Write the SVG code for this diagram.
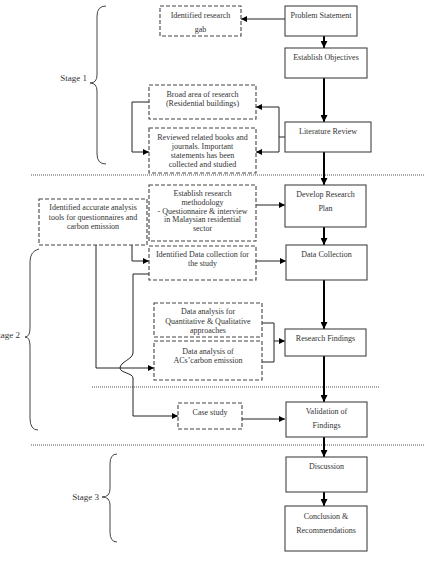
<svg xmlns="http://www.w3.org/2000/svg" width="425" height="571" viewBox="0 0 425 571">
<style>
.box{fill:#fff;stroke:#444;stroke-width:1.1}
.dbox{fill:#fff;stroke:#444;stroke-width:1.1;stroke-dasharray:4 2}
.t{font-family:"Liberation Serif",serif;font-size:8px;fill:#333;text-anchor:middle}
.st{font-family:"Liberation Serif",serif;font-size:9px;fill:#333;text-anchor:end}
.thick{fill:none;stroke:#000;stroke-width:2}
.thin{fill:none;stroke:#222;stroke-width:1}
.sep{fill:none;stroke:#555;stroke-width:1;stroke-dasharray:1 1}
.brace{fill:none;stroke:#444;stroke-width:1}
</style>
<defs>
<marker id="ah" viewBox="0 0 10 10" refX="10" refY="5" markerWidth="7" markerHeight="7" markerUnits="userSpaceOnUse" orient="auto"><path d="M0,0 L10,5 L0,10 z" fill="#000"/></marker>
<marker id="as" viewBox="0 0 10 10" refX="10" refY="5" markerWidth="6" markerHeight="6" markerUnits="userSpaceOnUse" orient="auto"><path d="M0,0 L10,5 L0,10 z" fill="#000"/></marker>
</defs>
<rect width="425" height="571" fill="#fff"/>

<g id="separators">
<path class="sep" d="M31,175 L425,175"/>
<path class="sep" d="M92,387 L379,387"/>
<path class="sep" d="M31,445 L425,445"/>
</g>

<g id="stage1">
<path class="brace" d="M106,6 Q97,6 97,16 L97,75 Q97,83 90,83 Q97,83 97,91 L97,154 Q97,164 106,164"/>
<text class="st" x="87" y="81">Stage 1</text>
</g>
<g id="stage2">
<path class="brace" d="M39,249 Q30,251 30,262 L30,328 Q30,337 25,337 Q30,337 30,346 L30,418 Q30,430 38,430"/>
<text class="st" x="20" y="338">Stage 2</text>
</g>
<g id="stage3">
<path class="brace" d="M117,454 Q110,454 110,464 L110,489 Q110,497 102,497 Q110,497 110,505 L110,532 Q110,542 117,542"/>
<text class="st" x="99" y="500">Stage 3</text>
</g>

<g id="connectors">
<path class="thin" d="M285,19 L241,19" marker-end="url(#as)"/>
<path class="thick" d="M324,36 L324,48" marker-end="url(#ah)"/>
<path class="thick" d="M324,78 L324,122" marker-end="url(#ah)"/>
<path class="thick" d="M324,152 L324,185" marker-end="url(#ah)"/>
<path class="thick" d="M324,227 L324,245" marker-end="url(#ah)"/>
<path class="thick" d="M324,280 L324,329" marker-end="url(#ah)"/>
<path class="thick" d="M324,356 L324,402" marker-end="url(#ah)"/>
<path class="thick" d="M324,437 L324,457" marker-end="url(#ah)"/>
<path class="thick" d="M324,492 L324,506" marker-end="url(#ah)"/>
<path class="thin" d="M285,137 L279,137 M279,107 L279,152"/>
<path class="thin" d="M279,107 L256,107" marker-end="url(#as)"/>
<path class="thin" d="M279,152 L256,152" marker-end="url(#as)"/>
<path class="thin" d="M149,102 L132,102 L132,152 L149,152" marker-end="url(#as)"/>
<path class="thin" d="M256,205 L285,205" marker-end="url(#as)"/>
<path class="thin" d="M256,261 L286,261" marker-end="url(#as)"/>
<path class="thin" d="M132,245 L132,261 L149,261" marker-end="url(#as)"/>
<path class="thin" d="M96,245 L96,368 L154,368" marker-end="url(#as)"/>
<path class="thin" d="M149,274 L133,274 L133,353 C133,359 120,362 120,368 C120,373 133,373 133,378 L133,416 L178,416" marker-end="url(#as)"/>
<path class="thin" d="M262,323 L274,323 L274,362 L262,362"/>
<path class="thin" d="M274,341 L285,341" marker-end="url(#as)"/>
<path class="thin" d="M242,419 L285,419" marker-end="url(#as)"/>
</g>

<g id="problem-statement">
<rect class="box" x="285" y="6" width="72" height="30"/>
<text class="t" x="321" y="18">Problem Statement</text>
</g>
<g id="establish-objectives">
<rect class="box" x="285" y="48" width="82" height="30"/>
<text class="t" x="326" y="60">Establish Objectives</text>
</g>
<g id="literature-review">
<rect class="box" x="285" y="122" width="86" height="30"/>
<text class="t" x="328" y="134">Literature Review</text>
</g>
<g id="develop-research-plan">
<rect class="box" x="285" y="185" width="81" height="42"/>
<text class="t" x="325.5" y="197">Develop Research</text>
<text class="t" x="325.5" y="211">Plan</text>
</g>
<g id="data-collection">
<rect class="box" x="286" y="245" width="81" height="35"/>
<text class="t" x="326.5" y="257">Data Collection</text>
</g>
<g id="research-findings">
<rect class="box" x="285" y="329" width="81" height="27"/>
<text class="t" x="325.5" y="341">Research Findings</text>
</g>
<g id="validation-of-findings">
<rect class="box" x="286" y="402" width="81" height="35"/>
<text class="t" x="326.5" y="414">Validation of</text>
<text class="t" x="326.5" y="428">Findings</text>
</g>
<g id="discussion">
<rect class="box" x="286" y="457" width="81" height="35"/>
<text class="t" x="326.5" y="469">Discussion</text>
</g>
<g id="conclusion">
<rect class="box" x="285" y="506" width="82" height="45"/>
<text class="t" x="326" y="519">Conclusion &amp;</text>
<text class="t" x="326" y="533">Recommendations</text>
</g>

<g id="research-gab">
<rect class="dbox" x="160" y="6" width="81" height="30"/>
<text class="t" x="200.5" y="18">Identified research</text>
<text class="t" x="200.5" y="32">gab</text>
</g>
<g id="broad-area">
<rect class="dbox" x="149" y="85" width="107" height="34"/>
<text class="t" x="202.5" y="97">Broad area of research</text>
<text class="t" x="202.5" y="106">(Residential buildings)</text>
</g>
<g id="reviewed-books">
<rect class="dbox" x="149" y="128" width="107" height="45"/>
<text class="t" x="202.5" y="140">Reviewed related books and</text>
<text class="t" x="202.5" y="149">journals. Important</text>
<text class="t" x="202.5" y="158">statements has been</text>
<text class="t" x="202.5" y="167">collected and studied</text>
</g>
<g id="research-methodology">
<rect class="dbox" x="149" y="185" width="107" height="56"/>
<text class="t" x="202.5" y="196">Establish research</text>
<text class="t" x="202.5" y="205">methodology</text>
<text class="t" x="202.5" y="214">- Questionnaire &amp; interview</text>
<text class="t" x="202.5" y="222">in Malaysian residential</text>
<text class="t" x="202.5" y="231">sector</text>
</g>
<g id="identified-data-collection">
<rect class="dbox" x="149" y="246" width="107" height="34"/>
<text class="t" x="202.5" y="257">Identified Data collection for</text>
<text class="t" x="202.5" y="266">the study</text>
</g>
<g id="analysis-tools">
<rect class="dbox" x="39" y="199" width="108" height="46"/>
<text class="t" x="93" y="210">Identified accurate analysis</text>
<text class="t" x="93" y="219.5">tools for questionnaires and</text>
<text class="t" x="93" y="229">carbon emission</text>
</g>
<g id="data-analysis-quant">
<rect class="dbox" x="154" y="303" width="108" height="34"/>
<text class="t" x="208" y="314">Data analysis for</text>
<text class="t" x="208" y="323.5">Quantitative &amp; Qualitative</text>
<text class="t" x="208" y="333">approaches</text>
</g>
<g id="data-analysis-acs">
<rect class="dbox" x="154" y="341" width="108" height="39"/>
<text class="t" x="208" y="354">Data analysis of</text>
<text class="t" x="208" y="363">ACs’carbon emission</text>
</g>
<g id="case-study">
<rect class="dbox" x="178" y="403" width="64" height="26"/>
<text class="t" x="210" y="415">Case study</text>
</g>
</svg>
